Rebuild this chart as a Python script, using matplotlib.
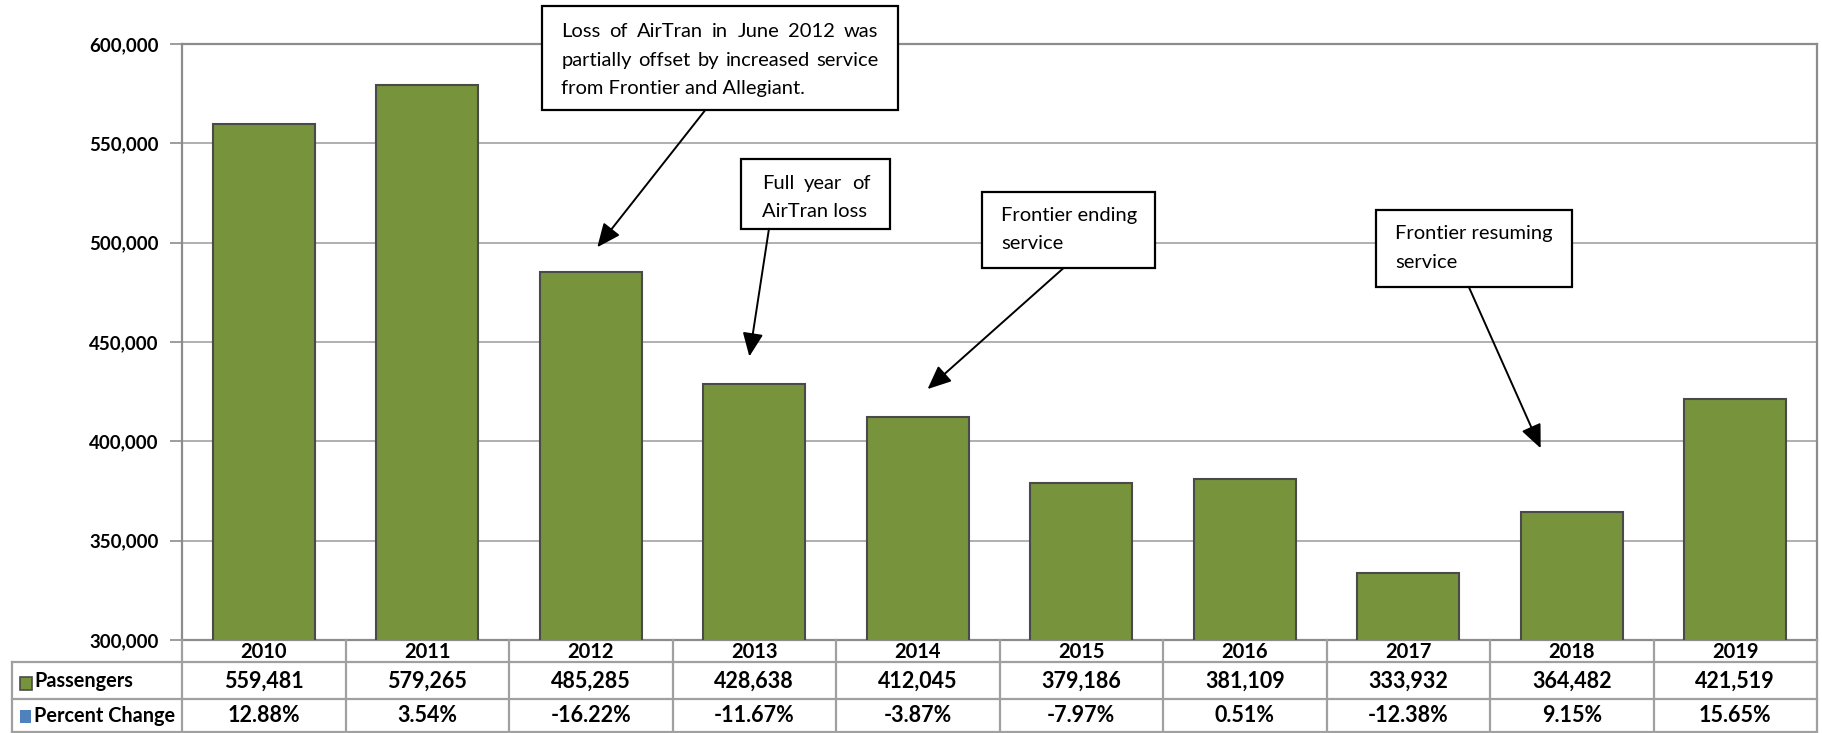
import numpy as np
import matplotlib
matplotlib.use("Agg")
from matplotlib import pyplot as plt
from matplotlib.patches import Rectangle
from matplotlib.lines import Line2D
from matplotlib.transforms import blended_transform_factory

plt.rcParams['font.family'] = ['Lato', 'DejaVu Sans']

# данные
years = ['2010', '2011', '2012', '2013', '2014', '2015', '2016', '2017', '2018', '2019']
passengers = [559481, 579265, 485285, 428638, 412045, 379186, 381109, 333932, 364482, 421519]
pct_change = [12.88, 3.54, -16.22, -11.67, -3.87, -7.97, 0.51, -12.38, 9.15, 15.65]
row_labels = ['Passengers', 'Percent Change']
y_ticks = [300000, 350000, 400000, 450000, 500000, 550000, 600000]

# сноски: (строки текста, выравнивание по ширине, рамка x0,x1,y0,y1, текст x0,x1, y строк, стрелка от, стрелка к)
notes = [
    (['Loss of AirTran in June 2012 was', 'partially offset by increased service', 'from Frontier and Allegiant.'],
     [True, True, False], (1.70, 3.88, 566700, 619300), (1.82, 3.76), [606400, 591800, 577800],
     (2.70, 566700), (2.04, 497700)),
    (['Full year of', 'AirTran loss'], [True, False], (2.92, 3.83, 507000, 542100), (3.05, 3.71),
     [529800, 515800], (3.09, 507000), (2.97, 442700)),
    (['Frontier ending', 'service'], [False, False], (4.39, 5.45, 487100, 525700), (4.51, 5.40),
     [513500, 499400], (4.89, 487100), (4.06, 426300)),
    (['Frontier resuming', 'service'], [False, False], (6.80, 8.00, 477800, 516400), (6.92, 7.90),
     [504700, 490100], (7.37, 477800), (7.81, 396500)),
]

W, H = 1822, 733
fig = plt.figure(figsize=(W / 100, H / 100), dpi=100, facecolor='w')
ax_l, ax_r, ax_t, ax_b = 182, 1817, 44, 640
ax = fig.add_axes([ax_l / W, 1 - ax_b / H, (ax_r - ax_l) / W, (ax_b - ax_t) / H])

x = np.arange(len(years))
ax.bar(x, passengers, width=0.625, color='#77933C', edgecolor='#4a4a4a', linewidth=1.5, zorder=3)
ax.set_xlim(-0.5, len(years) - 0.5)
ax.set_ylim(300000, 600000)
ax.set_yticks(y_ticks)
ax.set_yticklabels(['{:,}'.format(v) for v in y_ticks], fontsize=13.5, fontweight='bold')
ax.set_xticks([])
ax.tick_params(axis='y', length=9, width=1.2, color='#8c8c8c', pad=8)
ax.grid(axis='y', color='#9a9a9a', linewidth=1.1, zorder=0)
for side in ['left', 'right', 'top', 'bottom']:
    ax.spines[side].set_color('#8c8c8c')
    ax.spines[side].set_linewidth(1.6)

# таблица под графиком
tr = blended_transform_factory(ax.transData, fig.transFigure)
fy = lambda py: 1 - py / H
fx = lambda px: px / W
lc = '#a0a0a0'
lw = 1.6
tfs = 15.5
# горизонтальные линии
for py in [662, 699, 732]:
    fig.add_artist(Line2D([fx(12), fx(ax_r)], [fy(py), fy(py)], color=lc, lw=lw))
# вертикальные линии
for b in np.arange(len(years) + 1) - 0.5:
    fig.add_artist(Line2D([b, b], [fy(640), fy(733)], color=lc, lw=lw, transform=tr))
fig.add_artist(Line2D([fx(12), fx(12)], [fy(662), fy(733)], color=lc, lw=lw))

for i, yr in enumerate(years):
    fig.text(i, fy(652.5), yr, transform=tr, ha='center', va='center', fontsize=14.5, fontweight='bold')
    fig.text(i, fy(681), '{:,}'.format(passengers[i]), transform=tr, ha='center', va='center',
             fontsize=tfs, fontweight='bold')
    fig.text(i, fy(716), '{:.2f}%'.format(pct_change[i]), transform=tr, ha='center', va='center',
             fontsize=tfs, fontweight='bold')

fig.add_artist(Rectangle((fx(20), fy(690)), 12 / W, 13 / H, facecolor='#77933C', edgecolor='#4a4a4a', lw=1.2))
fig.add_artist(Rectangle((fx(20), fy(723)), 11 / W, 13 / H, facecolor='#4F81BD', edgecolor='none'))
fig.text(fx(34), fy(681), row_labels[0], ha='left', va='center', fontsize=14.3, fontweight='bold')
fig.text(fx(34), fy(716), row_labels[1], ha='left', va='center', fontsize=14.3, fontweight='bold')

# сноски со стрелками
renderer = fig.canvas.get_renderer()


def put_line(text, x0, x1, y, justify):
    kw = dict(fontsize=14.5, va='center', ha='left', zorder=6, clip_on=False)
    if not justify:
        ax.text(x0, y, text, **kw)
        return
    words = text.split()
    objs = [ax.text(0, y, w, **kw) for w in words]
    widths = [o.get_window_extent(renderer).width for o in objs]
    d0 = ax.transData.transform((x0, y))[0]
    d1 = ax.transData.transform((x1, y))[0]
    gap = (d1 - d0 - sum(widths)) / (len(words) - 1)
    pos = d0
    inv = ax.transData.inverted()
    for o, w in zip(objs, widths):
        o.set_x(inv.transform((pos, 0))[0])
        pos += w + gap


for lines, just, (bx0, bx1, by0, by1), (tx0, tx1), ys, a_from, a_to in notes:
    ax.add_patch(Rectangle((bx0, by0), bx1 - bx0, by1 - by0, facecolor='white', edgecolor='black',
                           lw=1.6, zorder=5, clip_on=False))
    for ln, j, yy in zip(lines, just, ys):
        put_line(ln, tx0, tx1, yy, j)
    ax.annotate('', xy=a_to, xytext=a_from,
                arrowprops=dict(arrowstyle='-|>,head_length=0.8,head_width=0.35', color='black',
                                lw=1.4, mutation_scale=18, shrinkA=0, shrinkB=0), zorder=5)

plt.savefig('out.png', dpi=100)
plt.close()
